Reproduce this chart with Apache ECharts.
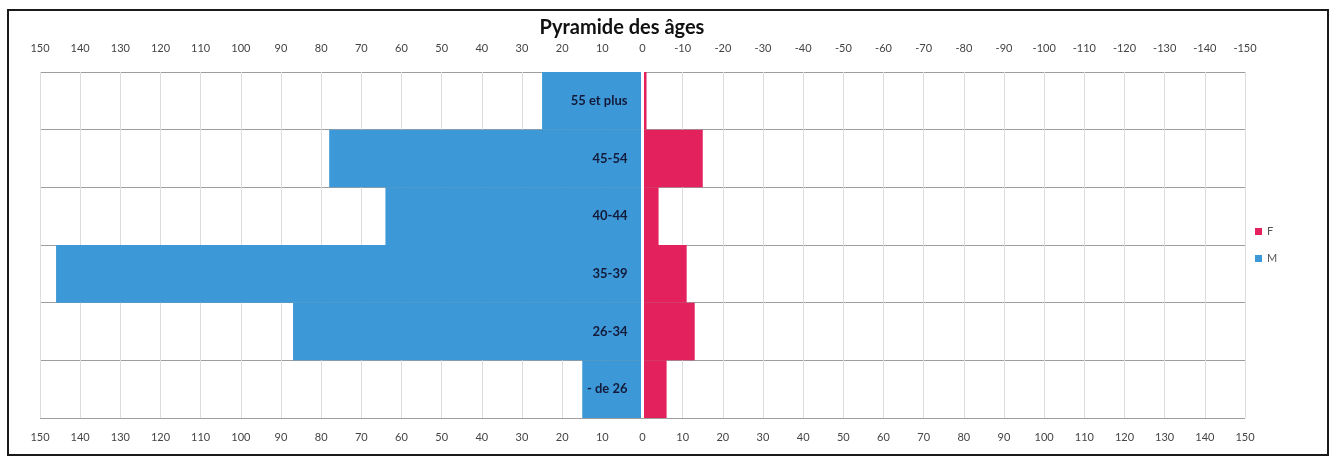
<!DOCTYPE html>
<html>
<head>
<meta charset="utf-8">
<script src="https://cdn.jsdelivr.net/npm/echarts@6/dist/echarts.min.js"></script>
<style>
html,body{margin:0;padding:0;background:#fff;}
#chart{width:1335px;height:460px;}
</style>
</head>
<body>
<div id="chart"></div>
<script>
// Data (bottom to top)
const categories = ['- de 26', '26-34', '35-39', '40-44', '45-54', '55 et plus'];
const valuesM = [15, 87, 146, 64, 78, 25];
const valuesF = [6, 13, 11, 4, 15, 1];
const titleText = 'Pyramide des âges';

const FONT = 'Lato, "Open Sans", sans-serif';
const chart = echarts.init(document.getElementById('chart'));
chart.setOption({
  animation: false,
  backgroundColor: '#fff',
  title: {
    text: titleText,
    left: 617, textAlign: 'center', top: 13,
    textStyle: { fontFamily: FONT, fontWeight: 'bold', fontSize: 20, color: '#111' }
  },
  graphic: [{
    type: 'rect', z: 100, silent: true,
    shape: { x: 8, y: 10, width: 1320, height: 445 },
    style: { fill: 'none', stroke: '#1a1a1a', lineWidth: 2 }
  }],
  legend: {
    orient: 'vertical', left: 1250, top: 221, itemGap: 16,
    itemWidth: 7, itemHeight: 7, icon: 'rect',
    data: ['F', 'M'],
    textStyle: { fontFamily: FONT, fontSize: 11, color: '#555' }
  },
  grid: { left: 40, right: 90, top: 72, bottom: 42 },
  xAxis: [{
    type: 'value', position: 'bottom', min: -150, max: 150, interval: 10,
    axisLine: { show: false }, axisTick: { show: false },
    axisLabel: { fontFamily: FONT, fontSize: 11, color: '#444', margin: 14,
      formatter: v => String(Math.abs(v)) },
    splitLine: { show: true, lineStyle: { color: '#dcdcdc', width: 1 } }
  }, {
    type: 'value', position: 'top', min: -150, max: 150, interval: 10, inverse: true,
    axisLine: { show: false }, axisTick: { show: false },
    axisLabel: { fontFamily: FONT, fontSize: 11, color: '#444', margin: 18 },
    splitLine: { show: false }
  }],
  yAxis: {
    type: 'category', data: categories,
    axisLine: { show: false }, axisTick: { show: false }, axisLabel: { show: false },
    splitLine: { show: true, lineStyle: { color: '#9e9e9e', width: 1.2 } }
  },
  series: [{
    name: 'M', type: 'bar', xAxisIndex: 1, data: valuesM,
    barWidth: '100%', barGap: '-100%',
    itemStyle: { color: '#3c98d6' },
    label: { show: true, position: 'insideRight', distance: 15, formatter: '{b}',
      fontFamily: FONT, fontWeight: 'bold', fontSize: 13, color: '#141a3a' }
  }, {
    name: 'F', type: 'bar', xAxisIndex: 0, data: valuesF,
    barWidth: '100%', barGap: '-100%',
    itemStyle: { color: '#e3225d' },
    markLine: { silent: true, symbol: 'none', label: { show: false },
      lineStyle: { color: '#fff', width: 3, type: 'solid' },
      data: [{ xAxis: 0 }] }
  }]
});
</script>
</body>
</html>
